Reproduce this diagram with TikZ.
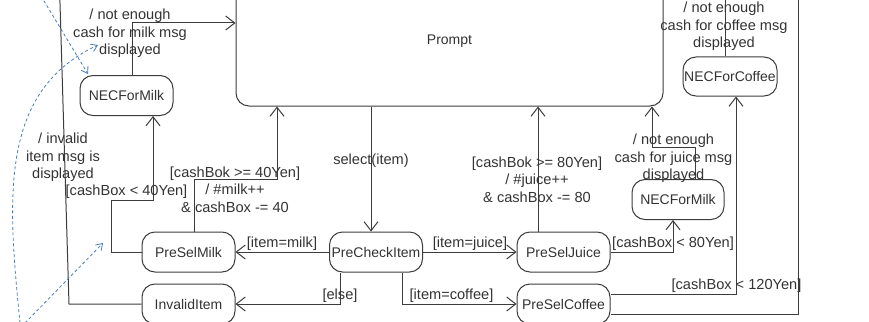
\documentclass[tikz,border=0pt]{standalone}
\usepackage{fontspec}
\setmainfont{Liberation Sans}
\usetikzlibrary{arrows.meta}
\definecolor{stroke}{HTML}{3C3C3C}
\definecolor{ink}{HTML}{333333}
\definecolor{hint}{HTML}{4A7EBB}
\begin{document}
\begin{tikzpicture}[x=1pt,y=-1pt,
  txt/.style={font=\fontsize{14}{17.5}\selectfont, text=ink},
  state/.style={txt, draw=stroke, line width=1pt, rounded corners=13pt,
    minimum width=93pt, minimum height=40pt, inner sep=0pt},
  line/.style={draw=stroke, line width=1pt},
  tr/.style={line, -{Straight Barb[length=9pt,width=14pt]}},
  lbl/.style={font=\fontsize{14.6}{17.5}\selectfont, text=ink, align=center, inner sep=0pt},
  note/.style={draw=hint, line width=0.8pt, dash pattern=on 3pt off 2.5pt,
    -{Straight Barb[length=6pt,width=8pt]}}]
\useasboundingbox (0,0) rectangle (869,321);
\clip (0,0) rectangle (869,321);

% states
\node[state, minimum width=427pt, minimum height=130pt] (Prompt) at (449.5,41) {Prompt};
\node[state] (NECMilkL) at (126.5,95.5) {NECForMilk};
\node[state] (PreSelMilk) at (188.5,252) {PreSelMilk};
\node[state] (InvalidItem) at (188.5,304) {InvalidItem};
\node[state] (PreCheckItem) at (376,252) {PreCheckItem};
\node[state] (PreSelJuice) at (563.5,252) {PreSelJuice};
\node[state] (PreSelCoffee) at (563.5,304) {PreSelCoffee};
\node[state, minimum width=92pt] (NECMilkR) at (678,199.5) {NECForMilk};
\node[state, minimum width=94pt, minimum height=39pt] (NECCoffee) at (730,76.5) {NECForCoffee};

% ends of transitions leaving the drawing area
\coordinate (upInvalid) at (59.6,-10);
\coordinate (upCoffee) at (725,-10);
\coordinate (upPaid) at (798,-10);

% transitions
\draw[tr] (Prompt.south -| 371,0) -- (PreCheckItem.north -| 371,0);
\draw[tr] (PreCheckItem.west) -- (PreSelMilk.east);
\draw[tr] (PreCheckItem.east) -- (PreSelJuice.west);
\draw[tr] (PreCheckItem.south -| 340,0) |- (InvalidItem.east);
\draw[tr] (PreCheckItem.south -| 402,0) |- (PreSelCoffee.west);
\draw[tr] (PreSelMilk.west) -| (111,200) -| (NECMilkL.south -| 153,0);
\draw[tr] (PreSelMilk.north -| 194,0) |- (277,179) -- (Prompt.south -| 277,0);
\draw[tr] (PreSelJuice.north -| 538,0) -- (Prompt.south -| 538,0);
\draw[tr] (PreSelJuice.east) -| (NECMilkR.south -| 673,0);
\draw[tr] (NECMilkR.north -| 695,0) |- (652,147) -- (Prompt.south -| 652,0);
\draw[tr] (PreSelCoffee.east |- 0,294) -| (NECCoffee.south -| 736,0);
\draw[line] (PreSelCoffee.east |- 0,314) -| (upPaid);
\draw[line] (NECCoffee.north -| 725,0) -- (upCoffee);
\draw[tr] (NECMilkL.north -| 132,0) |- (Prompt.west |- 0,23);
\draw[line] (InvalidItem.west) -- (69,304) -- (upInvalid);

% transition labels
\node[lbl] (lSelect) at (371,161) {select(item)};
\node[lbl] (lMilk) at (282,244) {[item=milk]};
\node[lbl] (lJuice) at (470,244) {[item=juice]};
\node[lbl] (lElse) at (340,296) {[else]};
\node[lbl] (lCoffee) at (451.5,296) {[item=coffee]};
\node[lbl] (lMilkLow) at (126.5,192) {[cashBox < 40Yen]};
\node[lbl] (lMilkOk) at (235,189.5) {[cashBok >= 40Yen]\\/ \#milk++\\\& cashBox -= 40};
\node[lbl] (lJuiceOk) at (537,179.5) {[cashBok >= 80Yen]\\/ \#juice++\\\& cashBox -= 80};
\node[lbl] (lJuiceLow) at (673,244) {[cashBox < 80Yen]};
\node[lbl] (lNECJ) at (673.5,158.5) {/ not enough\\cash for juice msg\\displayed};
\node[lbl] (lCoffeeLow) at (736.5,286) {[cashBox < 120Yen]};
\node[lbl] (lNECC) at (724,26.5) {/ not enough\\cash for coffee msg\\displayed};
\node[lbl] (lNECM) at (130,33.5) {/ not enough\\cash for milk msg\\displayed};
\node[lbl] (lInvalid) at (63,157.5) {/ invalid\\item msg is\\displayed};

% dashed blue hints
\coordinate (h1s) at (41,-4);
\coordinate (h1e) at (88,74);
\coordinate (h2s) at (20,323);
\coordinate (h2e) at (98,45);
\coordinate (h3s) at (25,323);
\coordinate (h3e) at (103,243);
\draw[note] (h1s) -- (h1e);
\draw[note] (h2s) .. controls (8,200) and (-2,92) .. (h2e);
\draw[note] (h3s) -- (h3e);
\end{tikzpicture}
\end{document}
